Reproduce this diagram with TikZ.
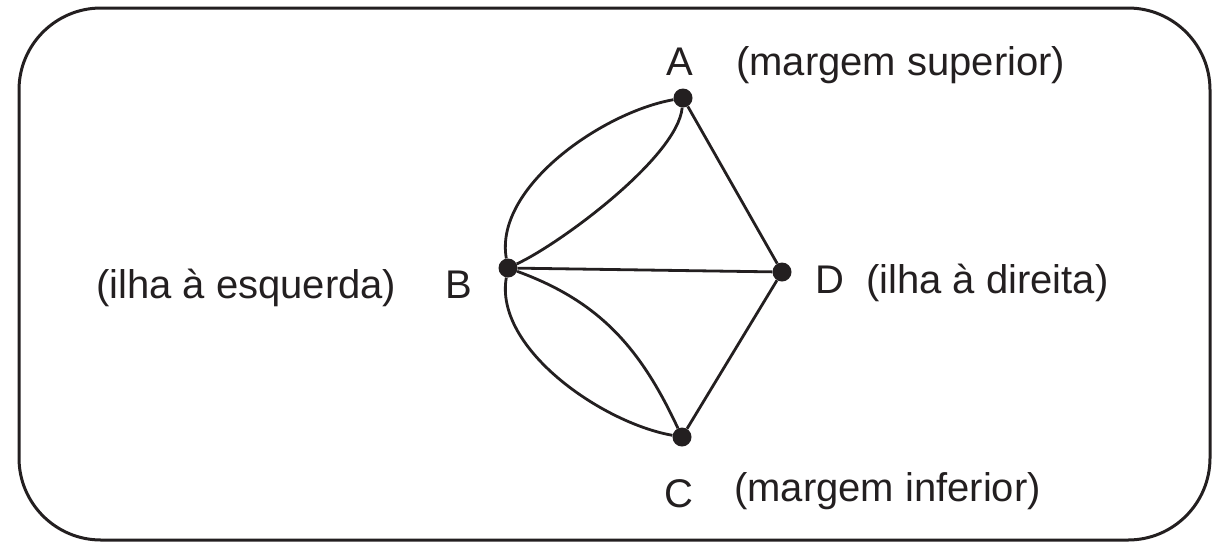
\documentclass[tikz,border=0pt]{standalone}
\usepackage{fontspec}
\setmainfont{Liberation Sans}
\definecolor{ink}{HTML}{231F20}
\begin{document}
\begin{tikzpicture}[x=1pt,y=-1pt,
  dot/.style={circle,fill=ink,inner sep=0pt,minimum size=19pt},
  lbl/.style={inner sep=0pt,anchor=base west,text=ink,font=\fontsize{40}{48}\selectfont},
  edge/.style={line width=2.8pt,draw=ink},
  frame/.style={line width=3pt,draw=ink,rounded corners=82pt}]
\useasboundingbox (0,0) rectangle (1215,542);
\draw[frame] (19,8) rectangle (1210,540);
\node[dot] (A) at (683,98) {};
\node[dot] (B) at (508,268) {};
\node[dot] (D) at (782,272) {};
\node[dot] (C) at (682,437) {};
\draw[edge] (B) to[out=100,in=190,looseness=0.8] (A);
\draw[edge] (B) to[out=25,in=-95,looseness=0.55] (A);
\draw[edge] (B) to[out=-100,in=170,looseness=0.8] (C);
\draw[edge] (B) to[out=-20,in=115,looseness=1.0] (C);
\draw[edge] (A) -- (D);
\draw[edge] (B) -- (D);
\draw[edge] (C) -- (D);
\node[lbl] (la) at (666,75) {A};
\node[lbl] (lat) at (736,75) {(margem superior)};
\node[lbl] (lb) at (445,298) {B};
\node[lbl] (lbt) at (96,298) {(ilha à esquerda)};
\node[lbl] (ld) at (815,293) {D};
\node[lbl] (ldt) at (866,293) {(ilha à direita)};
\node[lbl] (lc) at (664,507) {C};
\node[lbl] (lct) at (734,501) {(margem inferior)};
\end{tikzpicture}
\end{document}
